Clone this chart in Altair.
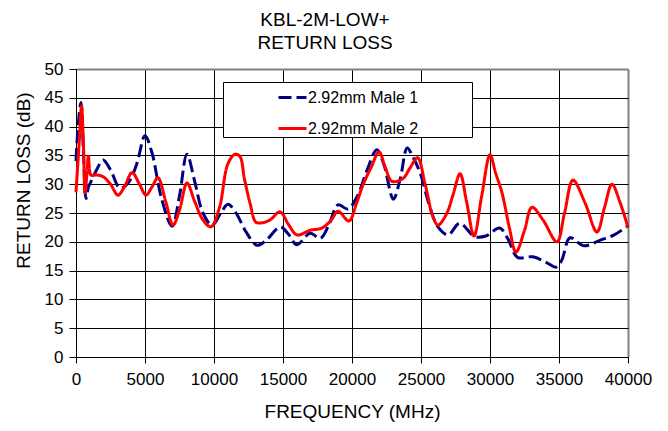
import altair as alt
import pandas as pd

FONT = "Liberation Sans"

series_names = ["2.92mm Male 1", "2.92mm Male 2"]

freq_male1 = [0, 150, 360, 550, 725, 900, 1160, 1500, 1960, 2500, 3190, 3800, 4400, 5000,
              5500, 6200, 6960, 7500, 8040, 8600, 9200, 9855, 10500, 11010, 11600, 12300,
              13120, 13800, 14800, 15400, 16000, 16960, 17700, 18300, 18990, 19700, 20400,
              21100, 21800, 22300, 23000, 23500, 24000, 24400, 24930, 25650, 26230, 26960,
              27800, 28900, 29700, 30700, 31300, 32000, 33100, 34100, 34800, 35200, 35800,
              36800, 38000, 39000, 40000]
rl_male1 = [34, 40, 44.2, 35, 27.5, 29.5, 30.8, 32.5, 34.2, 32.5, 29.3, 30.3, 33.5, 38.4,
            35.5, 27.5, 22.7, 28, 35.2, 30.5, 25, 22.9, 25, 26.5, 25, 21.8,
            19.4, 20.3, 22.6, 21.3, 19.5, 21.5, 20.6, 22.8, 26.4, 25.7, 28,
            32.5, 36, 33.5, 27.4, 31, 36.3, 34.8, 32, 26, 22.6, 21.2,
            23.2, 20.9, 21, 22.4, 20.5, 17.3, 17.4, 16.4, 15.6, 16.8, 20.7,
            19.3, 20.3, 21.2, 22.8]

freq_male2 = [0, 250, 400, 550, 650, 800, 900, 1090, 1500, 1960, 2500, 3040, 3500, 4060,
              4600, 5070, 5500, 5940, 6500, 7030, 7500, 8040, 8600, 9200, 9780, 10400,
              11000, 11520, 11880, 12200, 12610, 13040, 13480, 14060, 14780, 15400, 16010,
              16960, 17830, 18500, 18990, 19780, 20300, 20800, 21400, 21960, 22400, 22900,
              23700, 24200, 24750, 25300, 25870, 26230, 26880, 27300, 27830, 28300, 28840,
              29400, 30000, 30400, 30870, 31400, 31880, 32500, 33040, 33840, 34850, 35400,
              36010, 36880, 37750, 38300, 38840, 39400, 40000]
rl_male2 = [28.6, 38, 43.6, 36, 28.5, 32, 34.8, 31.6, 31.6, 31.3, 30, 28.1, 29.5, 32,
            30, 28.1, 29.5, 31.1, 27, 22.9, 25.5, 30.2, 27, 23.8, 22.6, 26,
            33.5, 35.2, 34.8, 31, 26.7, 23.4, 23.3, 23.8, 25.2, 23, 21.2,
            22, 22.4, 23.8, 25.3, 23.6, 26.5, 29.9, 33, 35.6, 33, 30.5,
            31, 32.8, 34.6, 30, 24.3, 22.9, 25, 28, 31.8, 27, 21,
            28, 35.1, 32, 28.5, 22.5, 18.2, 22, 26, 23.8, 20, 25,
            30.7, 26.8, 21.7, 26, 30, 27, 22.5]

x_ticks = list(range(0, 40001, 5000))
y_ticks = list(range(0, 51, 5))

df = pd.concat([
    pd.DataFrame({"freq": freq_male1, "rl": rl_male1, "series": series_names[0], "ord": 0}),
    pd.DataFrame({"freq": freq_male2, "rl": rl_male2, "series": series_names[1], "ord": 1}),
], ignore_index=True)

# trailing spacer (non-breaking spaces closed by a zero-width space so they are not trimmed)
spacer = "\u00a0" * 12 + "\u200b"
legend = alt.Legend(
    title=None, orient="none", legendX=147, legendY=13, direction="vertical",
    fillColor="white", strokeColor="black", padding=0,
    symbolType="stroke", symbolSize=784, symbolStrokeWidth=3,
    symbolOffset=54, labelOffset=0, labelFontSize=16, labelFont=FONT,
    labelColor="black", rowPadding=7, labelLimit=400,
    labelExpr="datum.label + '" + spacer + "'",
)

chart = alt.Chart(df).mark_line(strokeWidth=3, interpolate="catmull-rom").encode(
    x=alt.X("freq:Q", scale=alt.Scale(domain=[0, 40000], nice=False),
            axis=alt.Axis(values=x_ticks, format="d", title="FREQUENCY (MHz)",
                          gridColor={"condition": {"test": "datum.value == 40000", "value": "#808080"}, "value": "black"},
                          gridWidth={"condition": {"test": "datum.value == 40000", "value": 2}, "value": 1},
                          tickSize=6, labelPadding=8, titleY=60, titleBaseline="alphabetic",
                          labelOverlap=False, labelFlush=False)),
    y=alt.Y("rl:Q", scale=alt.Scale(domain=[0, 50], nice=False),
            axis=alt.Axis(values=y_ticks, title="RETURN LOSS (dB)",
                          gridColor={"condition": {"test": "datum.value == 50", "value": "#808080"}, "value": "black"},
                          gridWidth={"condition": {"test": "datum.value == 50", "value": 2}, "value": 1},
                          tickSize=7, labelPadding=6, titleX=-47, titleY=111,
                          titleBaseline="alphabetic", titleAlign="center",
                          labelOverlap=False, labelFlush=False)),
    color=alt.Color("series:N", scale=alt.Scale(domain=series_names, range=["#000080", "#FF0000"]),
                    legend=legend),
    strokeDash=alt.StrokeDash("series:N", scale=alt.Scale(domain=series_names, range=[[13, 5], [1, 0]]),
                              legend=legend),
    order=alt.Order("ord:Q"),
).properties(
    width=552, height=288,
    title=alt.TitleParams(["KBL-2M-LOW+", "RETURN LOSS"], fontSize=19, font=FONT,
                          fontWeight="normal", color="black", anchor="middle", dx=-27, dy=26.5,
                          lineHeight=23.4, offset=18, baseline="alphabetic"),
    autosize=alt.AutoSizeParams(type="none"),
    padding={"left": 68, "top": 61, "right": 32, "bottom": 66},
).configure_axis(
    labelFont=FONT, titleFont=FONT, labelFontSize=17, titleFontSize=19,
    labelColor="black", titleColor="black", titleFontWeight="normal",
    domainColor="black", tickColor="black", grid=True,
).configure_view(stroke=None)

chart.save("out.html", embed_options={"renderer": "svg", "actions": False})
